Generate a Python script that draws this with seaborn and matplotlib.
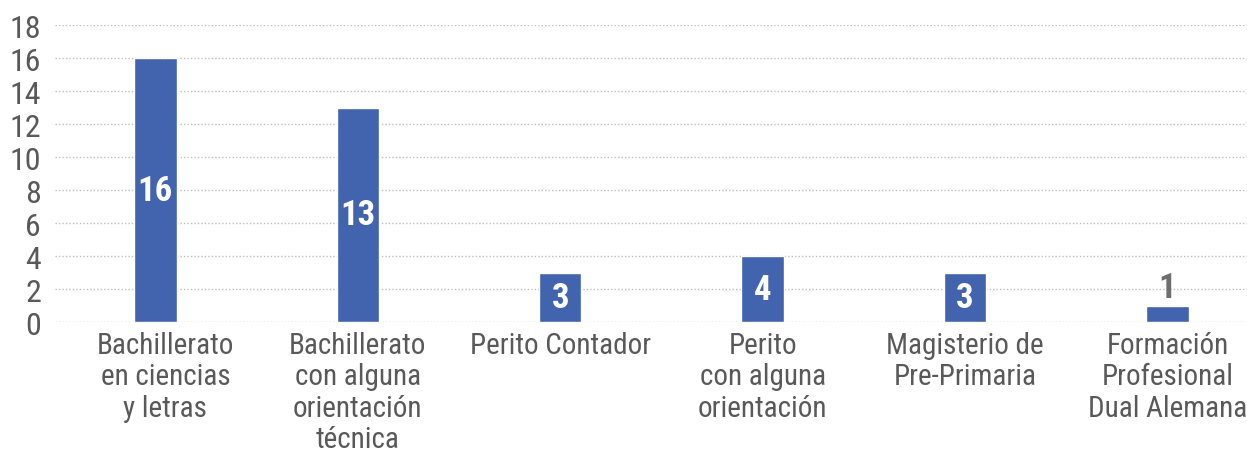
import pandas as pd
import matplotlib.pyplot as plt
import matplotlib.transforms as mtransforms
import seaborn as sns

# Datos
categorias = [
    "Bachillerato\nen ciencias\ny letras",
    "Bachillerato\ncon alguna\norientación\ntécnica",
    "Perito Contador",
    "Perito\ncon alguna\norientación",
    "Magisterio de\nPre-Primaria",
    "Formación\nProfesional\nDual Alemana",
]
valores = [16, 13, 3, 4, 3, 1]

data = pd.DataFrame({"Categoria": categorias, "Valor": valores})

sns.set_style("white")
plt.rcParams["font.family"] = ["Roboto Condensed", "Roboto", "DejaVu Sans"]

fig = plt.figure(figsize=(12.47, 4.52), dpi=100)
ax = fig.add_axes([0.044, 0.285, 0.956, 0.657])

sns.barplot(x="Categoria", y="Valor", data=data, color="#4263AE", saturation=1,
            width=0.21, ax=ax, zorder=3)

ax.set_ylim(0, 18)
ax.set_xlim(-0.4965, 5.393)
ax.set_yticks(range(0, 19, 2))
ax.yaxis.grid(True, linestyle=(0, (1, 1.5)), color="#BFBFBF", linewidth=1, zorder=0)
ax.set_axisbelow(True)
for s in ax.spines.values():
    s.set_visible(False)

ax.tick_params(axis="y", labelsize=23, colors="#595959", length=0, pad=10)
ax.tick_params(axis="x", labelsize=21, colors="#595959", length=0, pad=6)
for t in ax.get_xticklabels():
    t.set_linespacing(1.16)
ax.set_xlabel("")
ax.set_ylabel("")

# primera etiqueta un poco a la derecha, como en el original
desplaza = mtransforms.ScaledTranslation(0.1, 0, fig.dpi_scale_trans)
primera = ax.get_xticklabels()[0]
primera.set_transform(primera.get_transform() + desplaza)

# Etiquetas de valores
for i, v in enumerate(valores):
    if v >= 3:
        ax.text(i, v / 2, str(v), ha="center", va="center", color="white",
                fontsize=25, fontweight="bold", zorder=4)
    else:
        ax.text(i, v + 0.1, str(v), ha="center", va="bottom", color="#6E6E6E",
                fontsize=25, fontweight="bold", zorder=4)

fig.savefig("out.png", dpi=100)
